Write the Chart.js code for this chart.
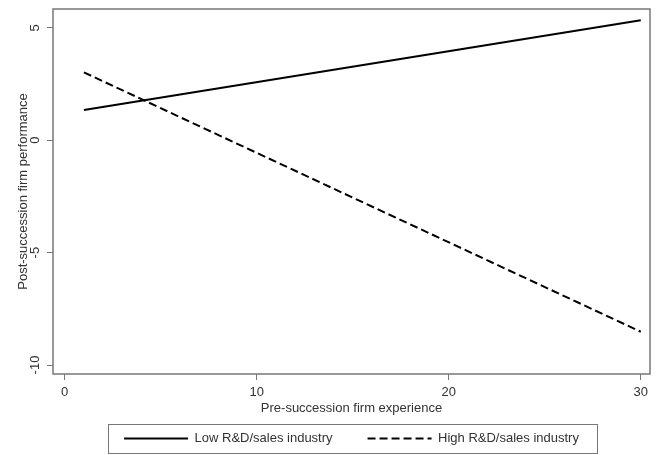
<!DOCTYPE html>
<html>
<head>
<meta charset="utf-8">
<script src="https://cdn.jsdelivr.net/npm/chart.js@4"></script>
<style>
  html, body { margin: 0; padding: 0; background: #fff; }
  #wrap { width: 657px; height: 455px; }
</style>
</head>
<body>
<div id="wrap"><canvas id="chartcontainer"></canvas></div>
<script>
// values
var experience = [1, 30];
var lowRD = [1.35, 5.34];
var highRD = [3.02, -8.52];
var xTicks = [0, 10, 20, 30];
var yTicks = [-10, -5, 0, 5];

function toPoints(xs, ys) {
    var pts = [];
    for (var i = 0; i < xs.length; i++) {
        pts.push({x: xs[i], y: ys[i]});
    }
    return pts;
};

var textColor = '#333';
var frameColor = '#777';
var font13 = {family: "'Liberation Sans', Arial, sans-serif", size: 13};

// full box around the plot, plus the frame around the legend
var framePlugin = {
    id: 'frames',
    afterDraw: function(chart) {
        var ctx = chart.ctx;
        var a = chart.chartArea;
        ctx.save();
        ctx.strokeStyle = frameColor;
        ctx.lineWidth = 1.5;
        ctx.strokeRect(a.left, a.top, a.right - a.left, a.bottom - a.top);
        var hb = chart.legend.legendHitBoxes;
        if (hb && hb.length) {
            var first = hb[0], last = hb[hb.length - 1];
            var left = first.left - 16;
            var right = last.left + last.width + 18;
            var top = first.top - 8;
            var bottom = first.top + first.height + 8;
            ctx.lineWidth = 1;
            ctx.strokeRect(Math.round(left) + 0.5, Math.round(top) + 0.5, Math.round(right - left), Math.round(bottom - top));
        }
        ctx.restore();
    }
};

var data_for_chart = {
    datasets: [
        {
            label: 'Low R&D/sales industry',
            data: toPoints(experience, lowRD),
            borderColor: '#000',
            backgroundColor: '#000',
            borderWidth: 2,
            pointRadius: 0,
            fill: false
        },
        {
            label: 'High R&D/sales industry',
            data: toPoints(experience, highRD),
            borderColor: '#000',
            backgroundColor: '#000',
            borderWidth: 2,
            borderDash: [8, 4],
            pointRadius: 0,
            fill: false
        }
    ]
};

var options = {
    responsive: true,
    maintainAspectRatio: false,
    animation: false,
    layout: {
        padding: {top: 9, right: 7, left: 0, bottom: 0}
    },
    scales: {
        x: {
            type: 'linear',
            min: -0.61,
            max: 30.48,
            afterBuildTicks: function(scale) {
                scale.ticks = xTicks.map(function(v) { return {value: v}; });
            },
            afterFit: function(scale) {
                scale.height = 23;
                scale.paddingLeft = 0;
                scale.paddingRight = 0;
            },
            grid: {drawOnChartArea: false, tickLength: 6, color: frameColor, lineWidth: 1},
            border: {display: false},
            ticks: {color: textColor, font: font13, padding: 5, maxRotation: 0},
            title: {
                display: true,
                text: 'Pre-succession firm experience',
                color: textColor,
                font: font13,
                padding: {top: 0, bottom: -19}
            }
        },
        y: {
            type: 'linear',
            min: -10.4,
            max: 5.84,
            afterBuildTicks: function(scale) {
                scale.ticks = yTicks.map(function(v) { return {value: v}; });
            },
            afterFit: function(scale) {
                scale.width = 53;
                scale.paddingTop = 0;
                scale.paddingBottom = 0;
            },
            grid: {drawOnChartArea: false, tickLength: 6, color: frameColor, lineWidth: 1},
            border: {display: false},
            ticks: {color: textColor, font: font13, padding: 2, minRotation: 90, maxRotation: 90, crossAlign: 'center'},
            title: {
                display: true,
                text: 'Post-succession firm performance',
                color: textColor,
                font: font13,
                padding: {top: 16, bottom: 0}
            }
        }
    },
    plugins: {
        legend: {
            display: true,
            position: 'bottom',
            fullSize: false,
            labels: {
                color: textColor,
                font: font13,
                usePointStyle: true,
                pointStyle: 'line',
                pointStyleWidth: 64,
                padding: 35,
                generateLabels: function(chart) {
                    var items = Chart.defaults.plugins.legend.labels.generateLabels(chart);
                    items.forEach(function(item, i) {
                        var ds = chart.data.datasets[i];
                        item.lineDash = ds.borderDash || [];
                        item.lineWidth = ds.borderWidth;
                        item.strokeStyle = ds.borderColor;
                    });
                    return items;
                }
            }
        },
        tooltip: {enabled: false}
    }
};

var ctx = document.getElementById('chartcontainer').getContext('2d');
var chart = new Chart(ctx, {
    type: 'line',
    data: data_for_chart,
    options: options,
    plugins: [framePlugin]
});
</script>
</body>
</html>
